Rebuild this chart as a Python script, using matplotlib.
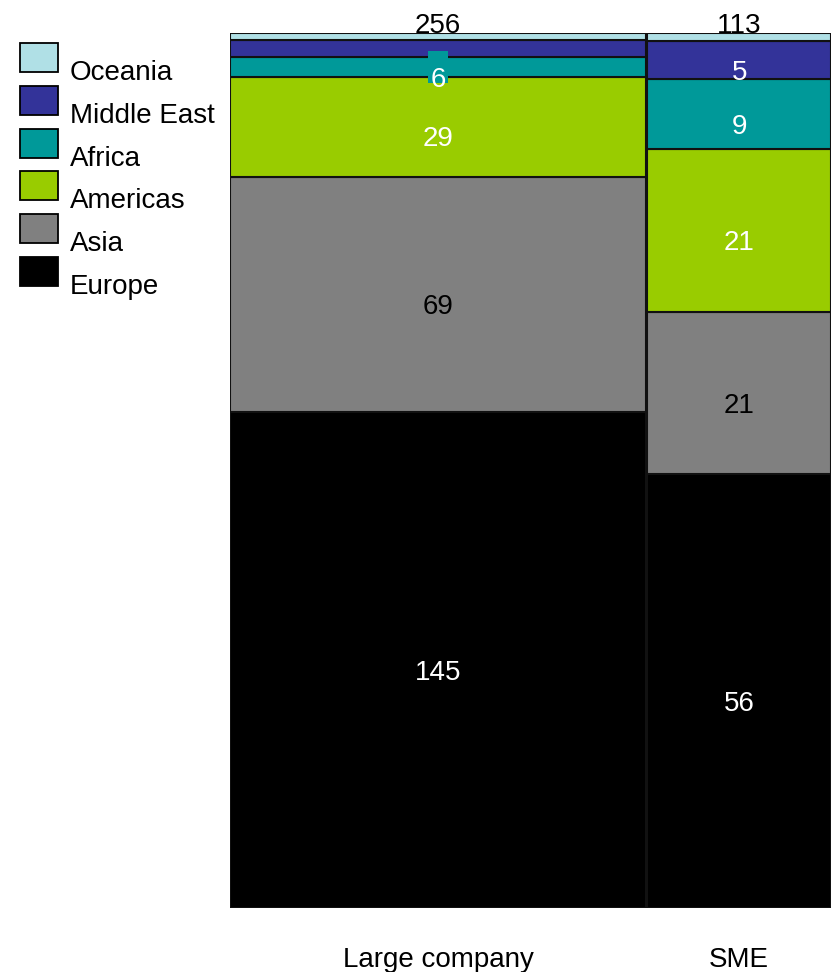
import matplotlib
matplotlib.use("Agg")
import matplotlib.pyplot as plt
from matplotlib.patches import Rectangle
from matplotlib.transforms import blended_transform_factory

plt.rcParams['font.family'] = ['Liberation Sans', 'DejaVu Sans']

# data
groups = ['Large company', 'SME']
regions = ['Europe', 'Asia', 'Americas', 'Africa', 'Middle East', 'Oceania']
europe = [145, 56]
asia = [69, 21]
americas = [29, 21]
africa = [6, 9]
middle_east = [5, 5]
oceania = [2, 1]

colors = ['#000000', '#808080', '#99cc00', '#009999', '#333399', '#b0e0e6']
label_colors = ['white', 'black', 'white', 'white', 'white', 'white']
# which labels are shown per group (reference hides the thin ones)
show = [[True, True, True, True, False, False],
        [True, True, True, True, True, False]]

values = [europe, asia, americas, africa, middle_east, oceania]
totals = [sum(v[i] for v in values) for i in range(len(groups))]

W, H = 834, 972
fig = plt.figure(figsize=(W / 100, H / 100), dpi=100)
ax = fig.add_axes([230 / W, (H - 908) / H, 601 / W, 875 / H])
ax.axis('off')

gap = 0.6
fs = 20
xscale = 601 / (sum(totals) + gap)   # px per data unit
x0 = 0
centers = []
for g in range(len(groups)):
    w = totals[g]
    bottom = 0
    for r in range(len(regions)):
        h = values[r][g] / totals[g]
        ax.bar(x0, h, width=w, bottom=bottom, align='edge', color=colors[r],
               edgecolor='#111111', linewidth=1.5)
        if show[g][r]:
            if g == 0 and regions[r] == 'Africa':
                # small label background box, as in the reference
                bw, bh = 20 / xscale, 32 / 875
                ax.add_patch(Rectangle((x0 + w / 2 - bw / 2, bottom + h / 2 - bh / 2),
                                       bw, bh, facecolor=colors[r],
                                       edgecolor='none', zorder=3))
            ax.annotate(str(values[r][g]), (x0 + w / 2, bottom + h / 2),
                        xytext=(0, -9), textcoords='offset points',
                        ha='center', va='center', fontsize=fs,
                        color=label_colors[r], zorder=4)
        bottom += h
    centers.append(x0 + w / 2)
    ax.text(x0 + w / 2, 1.0, str(totals[g]), ha='center', va='baseline',
            fontsize=fs, color='black')
    x0 += w + gap

ax.set_xlim(0, x0 - gap)
ax.set_ylim(0, 1)

tr = blended_transform_factory(ax.transData, ax.transAxes)
for g, name in enumerate(groups):
    ax.text(centers[g], -0.0674, name, transform=tr, ha='center',
            va='baseline', fontsize=fs)

# legend, drawn by hand (top entry is last region)
for i, r in enumerate(reversed(range(len(regions)))):
    top = 43 + i * 42.8
    fig.patches.append(Rectangle((20 / W, 1 - (top + 29) / H), 38 / W, 29 / H,
                                 transform=fig.transFigure,
                                 facecolor=colors[r], edgecolor='black',
                                 linewidth=1.3))
    fig.text(70 / W, 1 - (top + 37) / H, regions[r], fontsize=fs,
             ha='left', va='baseline')

fig.savefig('out.png', dpi=100)
